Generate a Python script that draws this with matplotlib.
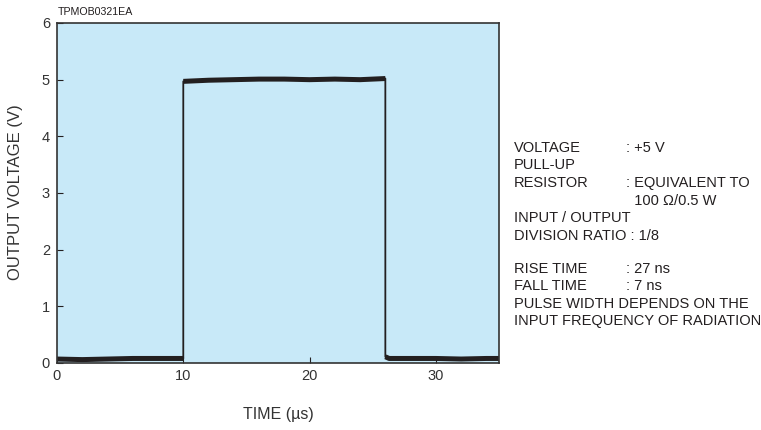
import matplotlib.pyplot as plt
import numpy as np

# pulse trace (time in us, output in V)
t_low1 = [0, 2, 4, 6, 8, 10]
v_low1 = [0.07, 0.06, 0.07, 0.08, 0.08, 0.08]
t_high = [10, 12, 14, 16, 18, 20, 22, 24, 26]
v_high = [4.97, 4.99, 5.00, 5.01, 5.01, 5.00, 5.01, 5.00, 5.02]
t_low2 = [26, 26.3, 28, 30, 32, 34, 35]
v_low2 = [0.11, 0.08, 0.08, 0.08, 0.07, 0.08, 0.08]

x_ticks = [0, 10, 20, 30]
y_ticks = [0, 1, 2, 3, 4, 5, 6]

notes = [
    ("VOLTAGE", ": +5 V", 148),
    ("PULL-UP", "", 165.5),
    ("RESISTOR", ": EQUIVALENT TO", 183),
    ("", "  100 \u03a9/0.5 W", 200.5),
    ("INPUT / OUTPUT", "", 218),
    ("DIVISION RATIO : 1/8", "", 235.5),
    ("RISE TIME", ": 27 ns", 269),
    ("FALL TIME", ": 7 ns", 286.5),
    ("PULSE WIDTH DEPENDS ON THE", "", 304),
    ("INPUT FREQUENCY OF RADIATION", "", 321.5),
]

plt.rcParams['font.family'] = ['Liberation Sans', 'DejaVu Sans']
ink = '#231f20'

fig = plt.figure(figsize=(7.61, 4.30), dpi=100)
ax = fig.add_axes([57/761, 1-363/430, 442/761, 340/430])
ax.set_facecolor('#c8e9f8')

# thin full trace incl. edges, thick noisy levels on top
t_all = t_low1 + t_high + t_low2
v_all = v_low1 + v_high + v_low2
ax.plot(t_all, v_all, color=ink, lw=1.3)
for tt, vv in [(t_low1, v_low1), (t_high, v_high), (t_low2, v_low2)]:
    ax.plot(tt, vv, color=ink, lw=3.6, solid_capstyle='butt')

ax.set_xlim(0, 35)
ax.set_ylim(0, 6)
ax.set_xticks(x_ticks)
ax.set_yticks(y_ticks)
ax.tick_params(direction='in', length=4, width=0.8, labelsize=10.5, colors=ink, labelcolor='#333333', pad=5)
ax.tick_params(axis='x', pad=4)
for s in ax.spines.values():
    s.set_color('#333333')
    s.set_linewidth(1.2)

fig.text(16/761, 1-192/430, 'OUTPUT VOLTAGE (V)', rotation=90, ha='center', va='center', fontsize=12, color='#333333')
fig.text(278/761, 1-415/430, 'TIME (\u00b5s)', ha='center', va='center', fontsize=11.5, color='#333333')
fig.text(58/761, 1-12/430, 'TPMOB0321EA', ha='left', va='center', fontsize=7.7, color=ink)

for a, b, y in notes:
    if a:
        fig.text(514/761, 1-y/430, a, ha='left', va='center', fontsize=10.5, color=ink)
    if b:
        fig.text(626/761, 1-y/430, b, ha='left', va='center', fontsize=10.5, color=ink)

fig.savefig('out.png', dpi=100)
